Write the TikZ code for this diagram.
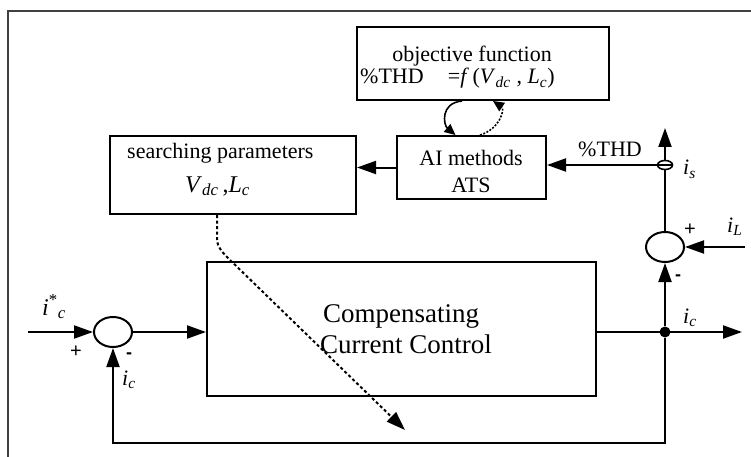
\documentclass[tikz,border=0pt]{standalone}
\usepackage{fontspec}
\setmainfont{Liberation Serif}
\newfontfamily\signfont{Liberation Sans}
\usetikzlibrary{arrows.meta,shapes.geometric}
\newcommand{\sbs}[1]{\textsubscript{\itshape #1}}
\begin{document}
\begin{tikzpicture}[x=1pt,y=-1pt,
  box/.style={draw,line width=2pt,rectangle,inner sep=0pt},
  flow/.style={line width=2pt,-{Triangle[length=19pt,width=13pt]}},
  smallflow/.style={line width=1.6pt,-{Triangle[length=11pt,width=10pt]}},
  sumnode/.style={draw,line width=2pt,ellipse,minimum width=38pt,minimum height=30pt,inner sep=0pt},
  txt/.style={inner sep=0pt,anchor=base,font=\fontsize{22}{26}\selectfont},
  mtxt/.style={inner sep=0pt,anchor=base west,font=\fontsize{24}{28}\selectfont},
  big/.style={inner sep=0pt,anchor=base,font=\fontsize{27}{31}\selectfont},
  plus/.style={inner sep=0pt,font=\signfont\fontsize{20}{22}\selectfont},
  minus/.style={inner sep=0pt,font=\signfont\bfseries\fontsize{18}{20}\selectfont},
  frameline/.style={draw=black!75,line width=2pt}
]
\useasboundingbox (0,0) rectangle (751,457);

% outer frame (top and left edges)
\draw[frameline] (8,457) -- (8,11) -- (751,11);

% blocks
\node[box,minimum width=252pt,minimum height=73pt] (obj) at (483,63.5) {};
\node[box,minimum width=149pt,minimum height=63pt] (ai) at (471.5,167.5) {};
\node[box,minimum width=246pt,minimum height=78pt] (sp) at (233,175) {};
\node[box,minimum width=389pt,minimum height=134pt] (ccc) at (401.5,329) {};

% summing junctions and branch point
\node[sumnode] (sl) at (113,332) {};
\node[sumnode] (sr) at (665,247) {};
\node[circle,fill,inner sep=0pt,minimum size=11pt] (jn) at (665,332) {};

% free ends
\coordinate (in) at (28,332);
\coordinate (out) at (742,332);
\coordinate (iLsrc) at (745,247);
\coordinate (top) at (665,128);
\coordinate (bl) at (113,443);
\coordinate (br) at (665,443);
\coordinate (dotend) at (405,430);

% signal paths
\draw[flow] (in) -- (sl.west);
\draw[flow] (sl.east) -- (sl.east -| ccc.west);
\draw[flow] (jn -| ccc.east) -- (out);
\draw[flow] (jn) -- (sr.south);
\draw[flow] (jn) -- (br) -- (bl) -- (sl.south);
\draw[flow] (iLsrc) -- (sr.east);
\draw[flow] (sr.north) -- (top);

% current sensor on the supply line
\node[draw,ellipse,line width=1.6pt,minimum width=15pt,minimum height=9pt,inner sep=0pt,fill=white] (sen) at (665,165) {};
\draw[line width=1.6pt] (sen.west) -- (sen.east);
\draw[flow] (sen.west) -- (sen.west -| ai.east);
\draw[flow] (ai.west) -- (ai.west -| sp.east);

% optimisation loop
\draw[smallflow] ([xshift=-21pt]obj.south) .. controls +(-22,2) and +(-12,-10) .. ([xshift=-16pt]ai.north);
\draw[smallflow,dash pattern=on 2pt off 1.5pt] ([xshift=8.5pt]ai.north) .. controls +(20,-6) and +(12,8) .. ([xshift=10pt]obj.south);

% parameter update
\draw[flow,dash pattern=on 3pt off 2.5pt] ([xshift=-16pt]sp.south) -- ++(0,24) .. controls +(0,8) and +(-6,-6) .. ++(12,20) -- (dotend);

% texts
\node[txt] (t1) at (472,62) {objective function};
\node[txt,anchor=base west] (t2) at (360,84) {\%THD\hspace{1.1em}=\textit{f}\,(\textit{V}\sbs{dc}\;, \textit{L}\sbs{c})};
\node[txt] (t3) at (471,165) {AI methods};
\node[txt] (t4) at (471,192) {ATS};
\node[txt,anchor=base west] (t5) at (127,158) {searching parameters};
\node[mtxt] (t6) at (185,192) {\textit{V}\sbs{dc}\,,\textit{L}\sbs{c}};
\node[big] (t7) at (401,322) {Compensating};
\node[big] (t8) at (406,353) {Current Control};
\node[txt] (t9) at (610,157) {\%THD};
\node[txt,anchor=base west] (t10) at (683,175) {\textit{i}\sbs{s}};
\node[txt,anchor=base west] (t11) at (727,232) {\textit{i}\sbs{L}};
\node[txt,anchor=base west] (t12) at (683,323) {\textit{i}\sbs{c}};
\node[mtxt] (t13) at (42,315) {\textit{i}\textsuperscript{*}\sbs{c}};
\node[txt,anchor=base west] (t14) at (122,385) {\textit{i}\sbs{c}};
\node[plus] (p1) at (76,352) {+};
\node[minus] (m1) at (129,356) {-};
\node[plus] (p2) at (690,230) {+};
\node[minus] (m2) at (678,278) {-};
\end{tikzpicture}
\end{document}
